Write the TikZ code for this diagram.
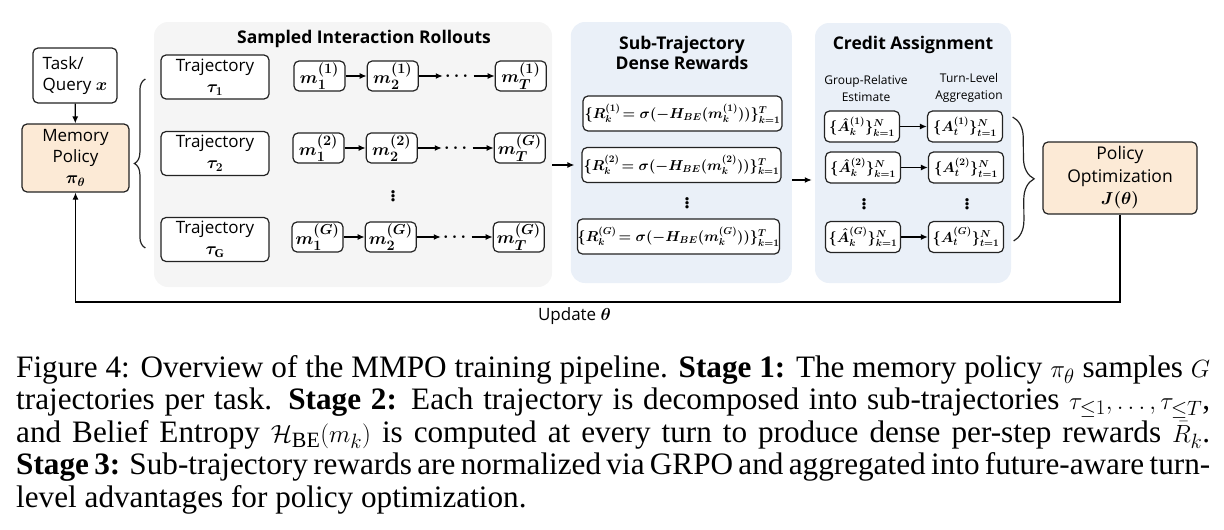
\documentclass[tikz,border=0pt]{standalone}
\usepackage{amsmath,amssymb,bm}
\usepackage{fontspec}
\usetikzlibrary{arrows.meta,positioning,calc,decorations.pathreplacing}
\setmainfont{Liberation Serif}
\newfontfamily\diagfont{Open Sans}
\definecolor{peach}{RGB}{252,234,214}
\definecolor{panelgray}{RGB}{245,245,245}
\definecolor{panelblue}{RGB}{234,240,248}
\definecolor{edge}{RGB}{35,35,35}

\begin{document}
\begin{tikzpicture}[x=1pt,y=-1pt,
  font=\diagfont\mathversion{bold}\fontsize{17}{21}\selectfont,
  box/.style={draw=edge,line width=1.2pt,rounded corners=5pt,inner sep=0pt,align=center,fill=white},
  tbox/.style={box,minimum width=108pt,minimum height=44pt},
  mbox/.style={box,minimum width=51pt,minimum height=30pt,font=\mathversion{bold}\fontsize{19}{21}\selectfont},
  rbox/.style={box,minimum width=199pt,minimum height=35pt,font=\mathversion{bold}\fontsize{13.6}{18}\selectfont},
  abox/.style={box,minimum width=75pt,minimum height=31pt,font=\mathversion{bold}\fontsize{13.6}{18}\selectfont},
  panel/.style={rounded corners=14pt,inner sep=0pt},
  title/.style={font=\diagfont\bfseries\fontsize{17.5}{20}\selectfont,align=center},
  sub/.style={font=\diagfont\fontsize{12}{17}\selectfont,align=center},
  dots/.style={inner sep=2pt,font=\mathversion{bold}\fontsize{18}{21}\selectfont},
  vd/.style={inner sep=0pt,font=\mathversion{bold}\fontsize{28}{30}\selectfont},
  arr/.style={-{Latex[length=7pt,width=6pt]},line width=1.3pt},
  brc/.style={decorate,line width=1.2pt,draw=edge}]
\useasboundingbox (0,0) rectangle (1224,530);
% panels
\node[panel,fill=panelgray,minimum width=398pt,minimum height=265pt] (roll) at (353,154.5) {};
\node[panel,fill=panelblue,minimum width=221pt,minimum height=261pt] (rew) at (681.3,152.5) {};
\node[panel,fill=panelblue,minimum width=196pt,minimum height=260pt] (cred) at (913,153) {};
\node[title] (rolltitle) at (364,39) {Sampled Interaction Rollouts};
\node[title] (rewtitle) at (682,53) {Sub-Trajectory\\Dense Rewards};
\node[title] (credtitle) at (913,45) {Credit Assignment};
% input and policy
\node[box,minimum width=84pt,minimum height=55pt,align=left] (task) at (75,75.5) {Task/\\Query $x$};
\node[box,fill=peach,minimum width=107pt,minimum height=68pt] (mem) at (75.5,158) {Memory\\Policy\\$\pi_\theta$};
\draw[arr] (task) -- (mem);
% trajectories
\node[tbox] (t1) at (215,77) {Trajectory\\$\tau_1$};
\node[tbox] (t2) at (215,153.5) {Trajectory\\$\tau_2$};
\node[tbox] (tg) at (215,239.5) {Trajectory\\$\tau_{\mathrm{G}}$};
\draw[brc,decoration={brace,amplitude=11pt}] ([shift={(-15,8.5)}]tg.west) -- ([shift={(-15,2)}]t1.west);
% memory chains
\node[mbox] (m11) at (319.5,76) {$m_1^{(1)}$};
\node[mbox,right=21pt of m11] (m12) {$m_2^{(1)}$};
\node[dots,right=24pt of m12] (d1) {$\cdots$};
\node[mbox,right=21pt of d1] (m1t) {$m_T^{(1)}$};
\draw[arr] (m11) -- (m12);
\draw[arr] (m12) -- (d1);
\draw[arr] (d1) -- (m1t);
\node[mbox] (m21) at (318.5,148) {$m_1^{(2)}$};
\node[mbox,right=21pt of m21] (m22) {$m_2^{(2)}$};
\node[dots,right=24pt of m22] (d2) {$\cdots$};
\node[mbox,right=21pt of d2] (m2t) {$m_T^{(G)}$};
\draw[arr] (m21) -- (m22);
\draw[arr] (m22) -- (d2);
\draw[arr] (d2) -- (m2t);
\node[vd] (vd1) at (393,193.5) {$\vdots$};
\node[mbox] (mg1) at (317.5,237) {$m_1^{(G)}$};
\node[mbox,right=21pt of mg1] (mg2) {$m_2^{(G)}$};
\node[dots,right=24pt of mg2] (dg) {$\cdots$};
\node[mbox,right=21pt of dg] (mgt) {$m_T^{(G)}$};
\draw[arr] (mg1) -- (mg2);
\draw[arr] (mg2) -- (dg);
\draw[arr] (dg) -- (mgt);
% dense rewards
\node[rbox] (r1) at (682.5,113.5) {$\{R_k^{(1)}\!= \sigma(-H_{BE}(m_k^{(1)}))\}_{k=1}^T$};
\node[rbox] (r2) at (681.5,165) {$\{R_k^{(2)}\!= \sigma(-H_{BE}(m_k^{(2)}))\}_{k=1}^T$};
\node[vd] (vd2) at (687,200) {$\vdots$};
\node[rbox] (rg) at (678.5,236.5) {$\{R_k^{(G)}\!= \sigma(-H_{BE}(m_k^{(G)}))\}_{k=1}^T$};
\draw[arr,shorten >=7pt] (roll.east |- r2.west) -- (r2.west);
% credit assignment
\node[sub] (grp) at (866,88) {Group-Relative\\Estimate};
\node[sub] (turn) at (969,88) {Turn-Level\\Aggregation};
\node[abox] (h1) at (862,126.5) {$\{\hat{A}_k^{(1)}\}_{k=1}^N$};
\node[abox] (h2) at (863,167.5) {$\{\hat{A}_k^{(2)}\}_{k=1}^N$};
\node[vd] (vd3) at (864,201) {$\vdots$};
\node[abox] (hg) at (863,237) {$\{\hat{A}_k^{(G)}\}_{k=1}^N$};
\node[abox] (a1) at (965,126.5) {$\{A_t^{(1)}\}_{t=1}^N$};
\node[abox] (a2) at (966,167.5) {$\{A_t^{(2)}\}_{t=1}^N$};
\node[vd] (vd4) at (967,201) {$\vdots$};
\node[abox] (ag) at (966,237) {$\{A_t^{(G)}\}_{t=1}^N$};
\draw[arr] (h1) -- (a1);
\draw[arr] (h2) -- (a2);
\draw[arr] (hg) -- (ag);
\draw[arr,shorten >=3pt] ([yshift=-27.5pt]rew.east) -- ([yshift=-27pt]cred.west);
\draw[brc,decoration={brace,amplitude=21pt}] ([shift={(9.5,-9.5)}]a1.east) -- ([shift={(9.5,4)}]ag.east);
% optimization and update loop
\node[box,fill=peach,minimum width=154pt,minimum height=72pt,font=\diagfont\mathversion{bold}\fontsize{17.5}{22.5}\selectfont] (po) at (1120,178) {Policy\\Optimization\\$J(\theta)$};
\coordinate (fb) at (0,302);
\draw[line width=1.2pt,-{Latex[length=7pt,width=6pt]}] (po.south) -- (po.south |- fb) -| (mem.south);
\node (upd) at (574.5,316) {Update $\theta$};
% caption
\node[anchor=north west,inner sep=0pt,text width=1194pt,align=justify,
  font=\rmfamily\mathversion{normal}\fontsize{31.2}{32.5}\selectfont] (cap) at (16,355)
  {\noindent Figure 4: Overview of the MMPO training pipeline. \textbf{Stage 1:} The memory policy $\pi_\theta$ samples $G$\linebreak
   trajectories per task. \textbf{Stage 2:} Each trajectory is decomposed into sub-trajectories $\tau_{\leq 1},\ldots,\tau_{\leq T}$,\linebreak
   and Belief Entropy $\mathcal{H}_{\mathrm{BE}}(m_k)$ is computed at every turn to produce dense per-step rewards $\bar{R}_k$.\linebreak
   \textbf{Stage 3:} Sub-trajectory rewards are normalized via GRPO and aggregated into future-aware turn-\linebreak
   level advantages for policy optimization.};
\end{tikzpicture}
\end{document}
